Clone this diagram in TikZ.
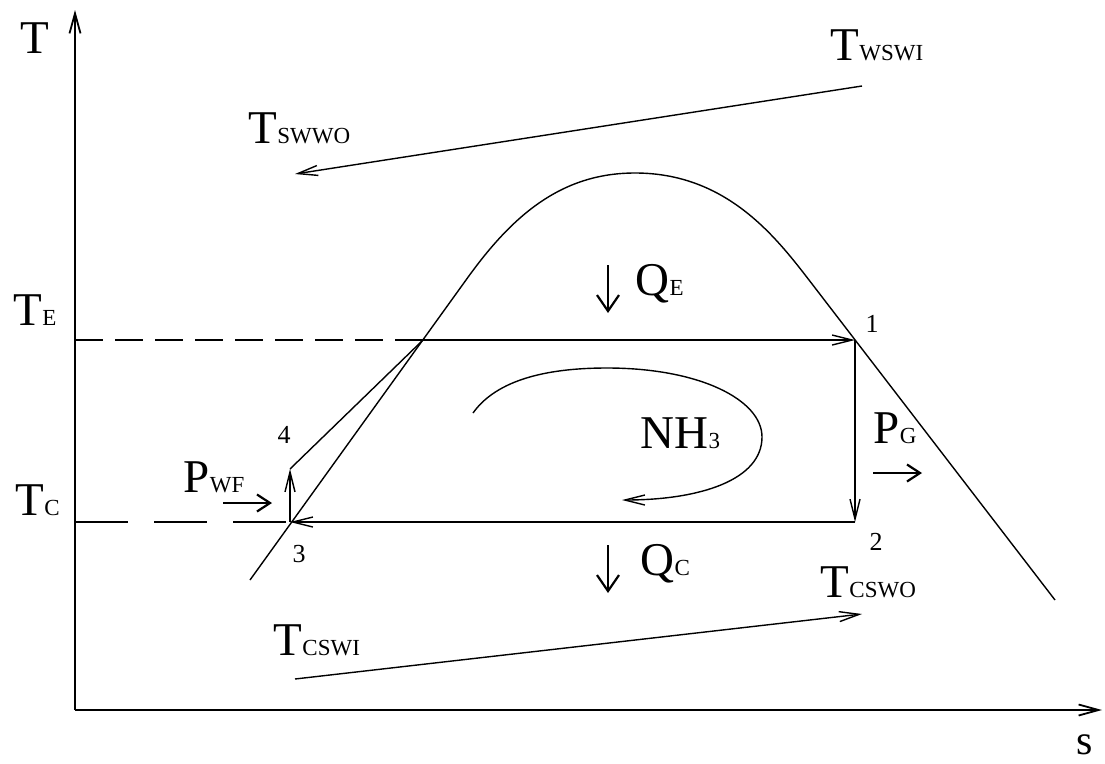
\documentclass[tikz,border=0pt]{standalone}
\usepackage{fontspec}
\setmainfont{Liberation Serif}
\usetikzlibrary{arrows.meta}
\newcommand\mainsz{\fontsize{47}{52}\selectfont}
\newcommand\subsz{\fontsize{23}{26}\selectfont}
\newcommand\numsz{\fontsize{26}{30}\selectfont}
\newcommand\axsz{\fontsize{42}{46}\selectfont}
\begin{document}
\begin{tikzpicture}[x=1pt,y=-1pt,line width=1.4pt,
  lbl/.style={anchor=base west,inner sep=0pt,font=\mainsz},
  num/.style={anchor=base west,inner sep=0pt,font=\numsz},
  arr/.style={-{Straight Barb[length=20pt,width=10pt]}},
  axisarr/.style={line width=1.8pt,-{Straight Barb[length=20pt,width=11pt]}},
  heatarr/.style={line width=2.2pt,-{Straight Barb[length=16pt,width=22pt]}},
  powarr/.style={line width=2.2pt,-{Straight Barb[length=13pt,width=17pt]}}]
\useasboundingbox (0,0) rectangle (1105,763);
% axes
\coordinate (O) at (75,710);
\coordinate (Ytop) at (75,10);
\coordinate (Xend) at (1102,710);
\draw[axisarr] (O) -- (Ytop);
\draw[axisarr] (O) -- (Xend);
\node[lbl] (Tlab) at (20,53) {T};
\node[lbl,font=\axsz] (slab) at (1076,754) {s};
% saturation dome
\coordinate (liqlow) at (250,580);
\coordinate (liqtop) at (466,280);
\coordinate (peak) at (635,173);
\coordinate (vaptop) at (809,280);
\coordinate (vaplow) at (1055,600);
\draw (liqlow) -- (liqtop) .. controls (511,217) and (560,173) .. (peak)
      .. controls (725,173) and (774,234.5) .. (vaptop) -- (vaplow);
% cycle points
\coordinate (p1) at (855,340);
\coordinate (p2) at (855,522);
\coordinate (p3) at (290,522);
\coordinate (p4) at (290,469);
\coordinate (pE) at (423,340);
\coordinate (TEs) at (75,340);
\coordinate (TCs) at (75,522);
\draw[dash pattern=on 28pt off 12pt] (TEs) -- (pE);
\draw[dash pattern=on 53pt off 26pt] (TCs) -- (p3);
\draw (p4) -- (pE);
\draw[arr] (pE) -- (p1);
\draw[arr] (p1) -- (p2);
\draw[arr] (p2) -- (p3);
\draw[arr] (p3) -- (p4);
\node[num] (n1) at (865,332) {1};
\node[num] (n2) at (869,550) {2};
\node[num] (n3) at (292,562) {3};
\node[num] (n4) at (277,443) {4};
% temperature labels
\node[lbl] (TE) at (13,325) {T{\subsz E}};
\node[lbl] (TC) at (15,515) {T{\subsz C}};
% warm water
\coordinate (wsIn) at (862,86);
\coordinate (wsOut) at (295,174);
\draw[arr] (wsIn) -- (wsOut);
\node[lbl] (TWSWI) at (830,60) {T{\subsz WSWI}};
\node[lbl] (TSWWO) at (248,143) {T{\subsz SWWO}};
% cold water
\coordinate (csIn) at (295,679);
\coordinate (csOut) at (862,614);
\draw[arr] (csIn) -- (csOut);
\node[lbl] (TCSWI) at (273,655) {T{\subsz CSWI}};
\node[lbl] (TCSWO) at (820,597) {T{\subsz CSWO}};
% heat flows
\coordinate (qeA) at (608,265);
\coordinate (qeB) at (608,313);
\draw[heatarr] (qeA) -- (qeB);
\node[lbl] (QE) at (635,295) {Q{\subsz E}};
\coordinate (qcA) at (608,545);
\coordinate (qcB) at (608,593);
\draw[heatarr] (qcA) -- (qcB);
\node[lbl] (QC) at (640,575) {Q{\subsz C}};
% power
\coordinate (pwA) at (223,503);
\coordinate (pwB) at (272,503);
\draw[powarr] (pwA) -- (pwB);
\node[lbl] (PWF) at (183,492) {P{\subsz WF}};
\coordinate (pgA) at (873,473);
\coordinate (pgB) at (922,473);
\draw[powarr] (pgA) -- (pgB);
\node[lbl] (PG) at (873,443) {P{\subsz G}};
% working fluid loop
\coordinate (lpS) at (473,413);
\coordinate (lpE) at (622,500);
\draw[arr] (lpS) .. controls (500,375) and (560,368) .. (607,368)
  .. controls (700,368) and (762,400) .. (762,437)
  .. controls (762,480) and (700,500) .. (lpE);
\node[lbl] (NH3) at (640,448) {NH{\subsz 3}};
\end{tikzpicture}
\end{document}
